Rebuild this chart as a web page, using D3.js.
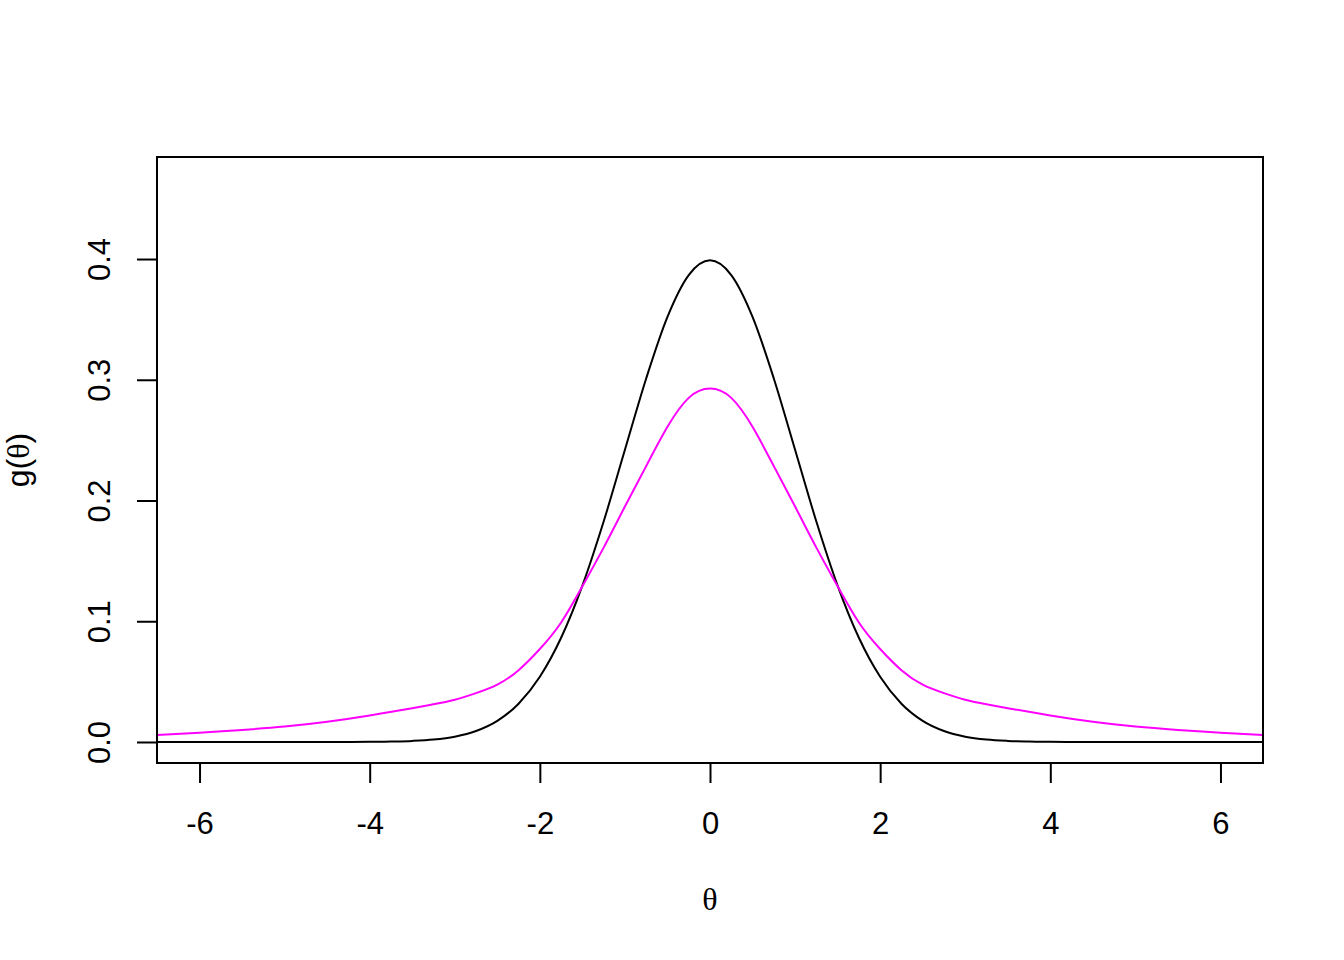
<!DOCTYPE html>
<html>
<head>
<meta charset="utf-8">
<script src="https://cdn.jsdelivr.net/npm/d3@7"></script>
<style>
  html, body { margin: 0; padding: 0; background: #ffffff; }
  svg { display: block; }
  text { font-family: "Liberation Sans", Arial, Helvetica, sans-serif; fill: #000; }
</style>
</head>
<body>
<svg id="chart" width="1344" height="960"></svg>
<script>
// ---- data ----
const blackTheta = [-6.5, -6, -5.5, -5, -4.5, -4, -3.75, -3.5, -3.25, -3, -2.75, -2.5, -2.25, -2, -1.75, -1.5, -1.25, -1, -0.75, -0.5, -0.25, 0,
                    0.25, 0.5, 0.75, 1, 1.25, 1.5, 1.75, 2, 2.25, 2.5, 2.75, 3, 3.25, 3.5, 3.75, 4, 4.5, 5, 5.5, 6, 6.5];
const blackG = [0, 0, 0, 0, 0, 0.0001, 0.0004, 0.0009, 0.0020, 0.0044, 0.0091, 0.0175, 0.0317, 0.0540, 0.0863, 0.1295, 0.1826, 0.2420, 0.3011, 0.3521, 0.3867, 0.3989,
                0.3867, 0.3521, 0.3011, 0.2420, 0.1826, 0.1295, 0.0863, 0.0540, 0.0317, 0.0175, 0.0091, 0.0044, 0.0020, 0.0009, 0.0004, 0.0001, 0, 0, 0, 0, 0];

const magentaTheta = [-6.5, -6, -5.5, -5, -4.5, -4, -3.5, -3.25, -3, -2.75, -2.5, -2.25, -2, -1.75, -1.5, -1.25, -1, -0.75, -0.5, -0.25, 0,
                      0.25, 0.5, 0.75, 1, 1.25, 1.5, 1.75, 2, 2.25, 2.5, 2.75, 3, 3.25, 3.5, 4, 4.5, 5, 5.5, 6, 6.5];
const magentaG = [0.0058, 0.0077, 0.0100, 0.0128, 0.0168, 0.0220, 0.0280, 0.0312, 0.0350, 0.0405, 0.0475, 0.0595, 0.0770, 0.0990, 0.1290, 0.1610, 0.1950, 0.2285, 0.2610, 0.2850, 0.2927,
                  0.2850, 0.2610, 0.2285, 0.1950, 0.1610, 0.1290, 0.0990, 0.0770, 0.0595, 0.0475, 0.0405, 0.0350, 0.0312, 0.0280, 0.0220, 0.0168, 0.0128, 0.0100, 0.0077, 0.0058];

const xTicks = [-6, -4, -2, 0, 2, 4, 6];
const yTicks = [0.0, 0.1, 0.2, 0.3, 0.4];
const xTickLabels = ["-6", "-4", "-2", "0", "2", "4", "6"];
const yTickLabels = ["0.0", "0.1", "0.2", "0.3", "0.4"];

// ---- layout ----
const plotLeft = 157, plotRight = 1263, plotTop = 157, plotBottom = 763;
const svg = d3.select("#chart");
svg.append("rect").attr("width", 1344).attr("height", 960).attr("fill", "#ffffff");

const x = d3.scaleLinear().domain([-6.5, 6.5]).range([plotLeft, plotRight]);
const y = d3.scaleLinear().domain([-0.0174, 0.4845]).range([plotBottom, plotTop]);

svg.append("defs").append("clipPath").attr("id", "clip")
  .append("rect").attr("x", plotLeft).attr("y", plotTop).attr("width", plotRight - plotLeft).attr("height", plotBottom - plotTop);

const lineBlack = d3.line().x(d => x(d[0])).y(d => y(d[1])).curve(d3.curveMonotoneX);
const lineMagenta = d3.line().x(d => x(d[0])).y(d => y(d[1])).curve(d3.curveNatural);

const plot = svg.append("g").attr("clip-path", "url(#clip)");
plot.append("path")
  .datum(blackTheta.map((t, i) => [t, blackG[i]]))
  .attr("d", lineBlack).attr("fill", "none").attr("stroke", "#000000").attr("stroke-width", 2);
plot.append("path")
  .datum(magentaTheta.map((t, i) => [t, magentaG[i]]))
  .attr("d", lineMagenta).attr("fill", "none").attr("stroke", "#ff00ff").attr("stroke-width", 2);

// box
svg.append("rect").attr("x", plotLeft).attr("y", plotTop).attr("width", plotRight - plotLeft).attr("height", plotBottom - plotTop)
  .attr("fill", "none").attr("stroke", "#000").attr("stroke-width", 2);

// x axis
const xAxis = svg.append("g").attr("transform", `translate(0,${plotBottom})`)
  .call(d3.axisBottom(x).tickValues(xTicks).tickFormat((d, i) => xTickLabels[i]).tickSize(20).tickSizeOuter(0));
xAxis.select(".domain").remove();
xAxis.selectAll(".tick line").attr("stroke", "#000").attr("stroke-width", 2);
xAxis.selectAll(".tick text").attr("y", 71).attr("dy", "0")
  .style("font-size", "31px").style("font-family", '"Liberation Sans", Arial, sans-serif').attr("fill", "#000");

// y axis
const yAxis = svg.append("g").attr("transform", `translate(${plotLeft},0)`)
  .call(d3.axisLeft(y).tickValues(yTicks).tickFormat((d, i) => yTickLabels[i]).tickSize(20).tickSizeOuter(0));
yAxis.select(".domain").remove();
yAxis.selectAll(".tick line").attr("stroke", "#000").attr("stroke-width", 2);
yAxis.selectAll(".tick text")
  .attr("x", null).attr("y", null).attr("dy", "0")
  .attr("text-anchor", "middle")
  .attr("transform", "translate(-47,0) rotate(-90)")
  .style("font-size", "31px").style("font-family", '"Liberation Sans", Arial, sans-serif').attr("fill", "#000");

// axis titles
svg.append("text").attr("x", 710).attr("y", 910).attr("text-anchor", "middle")
  .style("font-family", '"Liberation Serif", "DejaVu Serif", serif').style("font-size", "32px").text("θ");

const yl = svg.append("text").attr("transform", "translate(29,460) rotate(-90)").attr("text-anchor", "middle")
  .style("font-size", "32px");
yl.append("tspan").text("g(");
yl.append("tspan").style("font-family", '"Liberation Serif", "DejaVu Serif", serif').text("θ");
yl.append("tspan").text(")");
</script>
</body>
</html>
